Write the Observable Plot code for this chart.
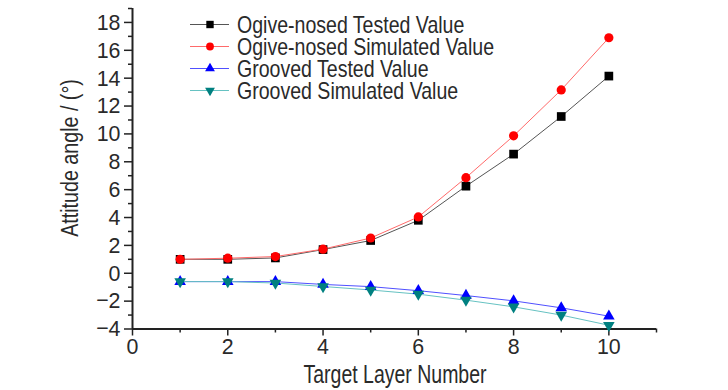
<!DOCTYPE html>
<html>
<head>
<meta charset="utf-8">
<script src="https://cdn.jsdelivr.net/npm/d3@7"></script>
<script src="https://cdn.jsdelivr.net/npm/@observablehq/plot@0.6"></script>
<style>
  body { margin: 0; background: #fff; }
  #wrap { position: relative; width: 728px; height: 390px; }
  #overlay { position: absolute; left: 0; top: 0; pointer-events: none; }
</style>
</head>
<body>
<div id="wrap"></div>
<script>
// ---- data ----
const layers = [1, 2, 3, 4, 5, 6, 7, 8, 9, 10];
const ogiveTested = [1.0, 1.0, 1.1, 1.7, 2.35, 3.8, 6.25, 8.55, 11.25, 14.15];
const ogiveSimulated = [1.0, 1.08, 1.2, 1.73, 2.53, 4.04, 6.86, 9.86, 13.16, 16.9];
const groovedTested = [-0.6, -0.6, -0.6, -0.8, -0.96, -1.25, -1.6, -1.98, -2.48, -3.08];
const groovedSimulated = [-0.6, -0.6, -0.7, -0.95, -1.2, -1.5, -1.93, -2.41, -3.0, -3.73];
const seriesNames = ["Ogive-nosed Tested Value", "Ogive-nosed Simulated Value", "Grooved Tested Value", "Grooved Simulated Value"];
const xTicks = [0, 2, 4, 6, 8, 10];
const xMinorTicks = [1, 3, 5, 7, 9, 11];
const yTicks = [-4, -2, 0, 2, 4, 6, 8, 10, 12, 14, 16, 18];
const yMinorTicks = [-3, -1, 1, 3, 5, 7, 9, 11, 13, 15, 17, 19];
const xTitle = "Target Layer Number";
const yTitle = "Attitude angle / (°)";

// ---- styles ----
const font = '"Liberation Sans", Arial, sans-serif';
const textColor = "#2a2a2a";
const tickNarrow = 0.93; // horizontal compression to mimic a narrow typeface
const markerColors = ["#000000", "#ff0000", "#0000ff", "#008080"];
const lineColors = ["#555555", "#ff6a6a", "#5050ff", "#66c2c2"];
const triangleDown = {
  draw(context, size) {
    const y = -Math.sqrt(size / (Math.sqrt(3) * 3));
    context.moveTo(0, -y * 2);
    context.lineTo(-Math.sqrt(3) * y, y);
    context.lineTo(Math.sqrt(3) * y, y);
    context.closePath();
  }
};
const symbols = [d3.symbolSquare, d3.symbolCircle, d3.symbolTriangle, triangleDown];
const radii = [4.9, 4.6, 4.3, 4.3];

const seriesValues = [ogiveTested, ogiveSimulated, groovedTested, groovedSimulated];
const seriesData = seriesValues.map((vals, i) => layers.map((x, j) => ({x, y: vals[j], s: seriesNames[i]})));

const marks = [];
seriesData.forEach((d, i) => {
  marks.push(Plot.line(d, {x: "x", y: "y", stroke: lineColors[i], strokeWidth: 1}));
});
seriesData.forEach((d, i) => {
  marks.push(Plot.dot(d, {x: "x", y: "y", symbol: symbols[i], r: radii[i], fill: markerColors[i], stroke: "none"}));
});

const chart = Plot.plot({
  width: 728,
  height: 390,
  marginLeft: 132,
  marginRight: 72,
  marginTop: 8,
  marginBottom: 61.5,
  style: {fontFamily: font, fontSize: "23px", color: textColor, background: "#fff"},
  x: {domain: [0, 11]},
  y: {domain: [-4, 19]},
  marks: [
    Plot.axisX(xTicks, {tickSize: 7, tickPadding: 2, stroke: "#222", strokeWidth: 1.5, label: null, fontSize: 23}),
    Plot.axisX(xMinorTicks, {tickSize: 4, tickFormat: () => "", stroke: "#222", strokeWidth: 1.5, label: null}),
    Plot.axisY(yTicks, {tickSize: 8, tickPadding: 4, stroke: "#222", strokeWidth: 1.5, label: null, fontSize: 23}),
    Plot.axisY(yMinorTicks, {tickSize: 4, tickFormat: () => "", stroke: "#222", strokeWidth: 1.5, label: null}),
    Plot.ruleY([-4], {stroke: "#222", strokeWidth: 2}),
    Plot.ruleX([0], {stroke: "#222", strokeWidth: 2}),
    ...marks
  ]
});

// compress tick labels horizontally (narrow face look)
d3.select(chart).selectAll('g[aria-label$="tick label"] text').each(function () {
  const t = this.getAttribute("transform") || "";
  this.setAttribute("transform", t + ` scale(${tickNarrow},1)`);
});

const wrap = document.getElementById("wrap");
wrap.appendChild(chart);

// ---- overlay: axis titles and legend ----
const overlay = d3.select(wrap).append("svg")
  .attr("id", "overlay").attr("width", 728).attr("height", 390)
  .attr("font-family", font).attr("fill", textColor);

overlay.append("text")
  .attr("transform", `translate(395,374) scale(0.78,1)`)
  .attr("text-anchor", "middle").attr("dy", "0.35em").attr("font-size", 25)
  .text(xTitle);

overlay.append("text")
  .attr("transform", `translate(70,158) rotate(-90) scale(0.82,1)`)
  .attr("text-anchor", "middle").attr("dy", "0.35em").attr("font-size", 24)
  .text(yTitle);

const rowY = i => 24.5 + i * 22;
seriesNames.forEach((name, i) => {
  const g = overlay.append("g").attr("transform", `translate(0,${rowY(i)})`);
  g.append("line").attr("x1", 190).attr("x2", 229).attr("y1", 0).attr("y2", 0)
    .attr("stroke", lineColors[i]).attr("stroke-width", 1);
  g.append("path").attr("transform", "translate(210,0)")
    .attr("d", d3.symbol(symbols[i], Math.PI * Math.pow(radii[i] * 0.85, 2))())
    .attr("fill", markerColors[i]);
  g.append("text").attr("transform", "translate(237,0) scale(0.85,1)").attr("dy", "0.35em")
    .attr("font-size", 23)
    .text(name);
});
</script>
</body>
</html>
